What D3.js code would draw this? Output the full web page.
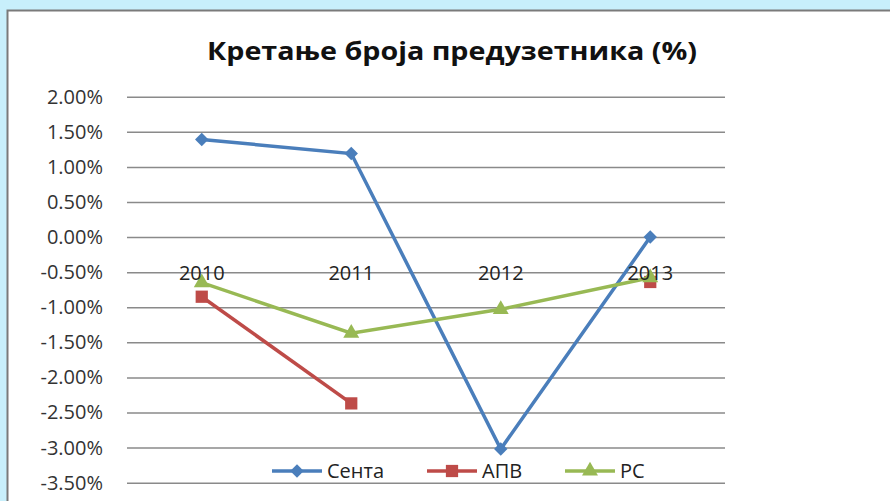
<!DOCTYPE html>
<html>
<head>
<meta charset="utf-8">
<script src="https://cdn.jsdelivr.net/npm/d3@7"></script>
<style>
  body { margin: 0; background: #c8effb; }
  svg { display: block; }
</style>
</head>
<body>
<div id="chart"></div>
<script>
// data
var years = ["2010", "2011", "2012", "2013"];
var senta = [1.39, 1.19, -3.02, 0.0];
var apv = [-0.85, -2.37, null, -0.64];
var rs = [-0.65, -1.37, -1.03, -0.58];
var yTicks = [2, 1.5, 1, 0.5, 0, -0.5, -1, -1.5, -2, -2.5, -3, -3.5];

var param = {
  width: 890,
  height: 501,
  left: 127,
  right: 725,
  top: 96.7,
  bottom: 482.7,
  fontSize: "20px"
};

var series = [
  {name: "Сента", values: senta, color: "#4a7ebb", marker: "diamond"},
  {name: "АПВ", values: apv, color: "#be4b48", marker: "square"},
  {name: "РС", values: rs, color: "#98b954", marker: "triangle"}
];

var svg = d3.select("#chart")
            .append("svg")
            .attr("width", param.width)
            .attr("height", param.height);

// chart box
svg.append("rect")
   .attr("x", 7.5).attr("y", 10.5)
   .attr("width", 900).attr("height", 500)
   .style("fill", "white")
   .style("stroke", "#7a7a7a")
   .style("stroke-width", 2);

var x = d3.scaleBand().domain(years).range([param.left, param.right]);
var y = d3.scaleLinear().domain([-3.5, 2]).range([param.bottom, param.top]);

function cx(i) { return x(years[i]) + x.bandwidth() / 2; }

// gridlines + y labels (plain hyphen for minus, like the original)
var yAxis = d3.axisLeft(y)
              .tickValues(yTicks)
              .tickSize(-(param.right - param.left))
              .tickPadding(24)
              .tickFormat(function(d) { return d3.format(".2f")(d).replace("\u2212", "-") + "%"; });

var gy = svg.append("g")
            .attr("transform", "translate(" + param.left + ",0)")
            .call(yAxis);
gy.select(".domain").remove();
gy.selectAll("line").style("stroke", "#8a8a8a").style("stroke-width", 1.5);
gy.selectAll("text")
  .style("font-family", "'Open Sans'")
  .style("font-size", param.fontSize)
  .style("fill", "#333");

// title
svg.append("text")
   .attr("x", 452)
   .attr("y", 60)
   .attr("textLength", 490)
   .attr("lengthAdjust", "spacingAndGlyphs")
   .text("Кретање броја предузетника (%)")
   .style("font-family", "'Open Sans'")
   .style("font-weight", "bold")
   .style("font-size", "25px")
   .style("text-anchor", "middle")
   .style("fill", "#111");

var symbols = {
  diamond: d3.symbol().type(d3.symbolSquare).size(90),
  square: d3.symbol().type(d3.symbolSquare).size(150),
  triangle: d3.symbol().type(d3.symbolTriangle).size(110)
};

function drawMarker(g, s, px, py) {
  g.append("path")
   .attr("d", symbols[s.marker]())
   .attr("transform", "translate(" + px + "," + py + ")" + (s.marker == "diamond" ? " rotate(45)" : ""))
   .style("fill", s.color);
}

var line = d3.line()
             .defined(function(d) { return d != null; })
             .x(function(d, i) { return cx(i); })
             .y(function(d) { return y(d); });

series.forEach(function(s) {
  var g = svg.append("g");
  g.append("path")
   .attr("d", line(s.values))
   .style("fill", "none")
   .style("stroke", s.color)
   .style("stroke-width", 3.5);
  s.values.forEach(function(v, i) {
    if (v != null) drawMarker(g, s, cx(i), y(v));
  });
});

// category labels along the zero line
svg.selectAll(".cat")
   .data(years)
   .enter()
   .append("text")
   .attr("class", "cat")
   .attr("x", function(d, i) { return cx(i); })
   .attr("y", y(0) + 43)
   .text(function(d) { return d; })
   .style("font-family", "'Open Sans'")
   .style("font-size", param.fontSize)
   .style("text-anchor", "middle")
   .style("fill", "#222");

// legend
var legendX = [272, 427, 565];
series.forEach(function(s, i) {
  var g = svg.append("g");
  var lx = legendX[i], ly = 471;
  g.append("line")
   .attr("x1", lx).attr("x2", lx + 50)
   .attr("y1", ly).attr("y2", ly)
   .style("stroke", s.color)
   .style("stroke-width", 3.5);
  drawMarker(g, s, lx + 25, ly);
  g.append("text")
   .attr("x", lx + 55)
   .attr("y", ly + 7)
   .text(s.name)
   .style("font-family", "'Open Sans'")
   .style("font-size", param.fontSize)
   .style("fill", "#222");
});
</script>
</body>
</html>
